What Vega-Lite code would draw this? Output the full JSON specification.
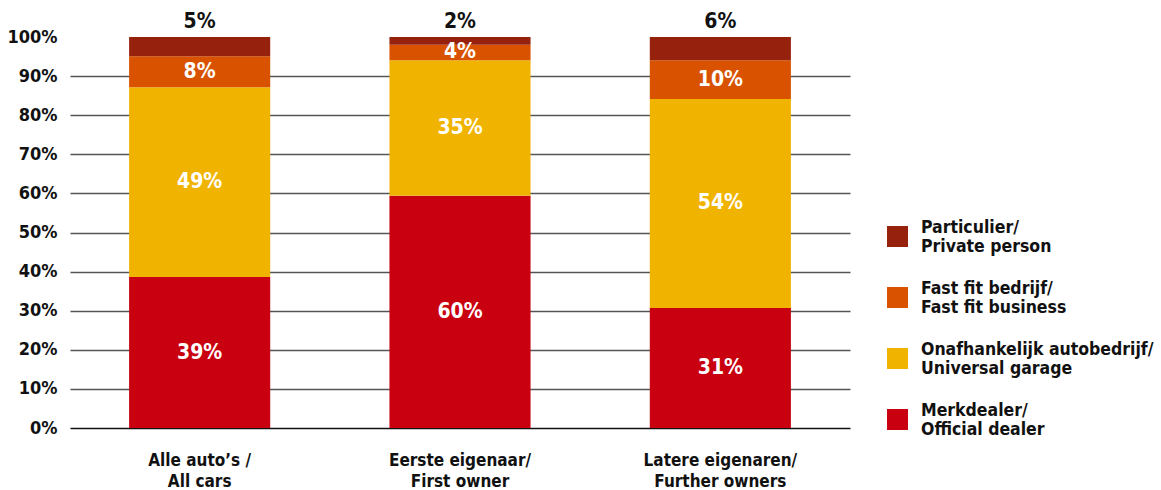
{
  "$schema": "https://vega.github.io/schema/vega-lite/v6.json",
  "autosize": "none",
  "width": 780,
  "height": 391,
  "padding": {"left": 70, "top": 37, "right": 311, "bottom": 62},
  "background": "white",
  "config": {
    "view": {"stroke": null},
    "font": "DejaVu Sans Condensed",
    "axis": {"labelFont": "DejaVu Sans Condensed", "labelFontWeight": "bold", "labelColor": "#111"},
    "legend": {"labelFont": "DejaVu Sans Condensed", "labelFontWeight": "bold"}
  },
  "data": {
    "values": [
      {"grp": "Alle auto’s /|All cars", "cat": "Merkdealer/|Official dealer", "k": 1, "v": 39, "lab": "39%"},
      {"grp": "Alle auto’s /|All cars", "cat": "Onafhankelijk autobedrijf/|Universal garage", "k": 2, "v": 49, "lab": "49%"},
      {"grp": "Alle auto’s /|All cars", "cat": "Fast fit bedrijf/|Fast fit business", "k": 3, "v": 8, "lab": "8%"},
      {"grp": "Alle auto’s /|All cars", "cat": "Particulier/|Private person", "k": 4, "v": 5, "lab": "5%"},
      {"grp": "Eerste eigenaar/|First owner", "cat": "Merkdealer/|Official dealer", "k": 1, "v": 60, "lab": "60%"},
      {"grp": "Eerste eigenaar/|First owner", "cat": "Onafhankelijk autobedrijf/|Universal garage", "k": 2, "v": 35, "lab": "35%"},
      {"grp": "Eerste eigenaar/|First owner", "cat": "Fast fit bedrijf/|Fast fit business", "k": 3, "v": 4, "lab": "4%"},
      {"grp": "Eerste eigenaar/|First owner", "cat": "Particulier/|Private person", "k": 4, "v": 2, "lab": "2%"},
      {"grp": "Latere eigenaren/|Further owners", "cat": "Merkdealer/|Official dealer", "k": 1, "v": 31, "lab": "31%"},
      {"grp": "Latere eigenaren/|Further owners", "cat": "Onafhankelijk autobedrijf/|Universal garage", "k": 2, "v": 54, "lab": "54%"},
      {"grp": "Latere eigenaren/|Further owners", "cat": "Fast fit bedrijf/|Fast fit business", "k": 3, "v": 10, "lab": "10%"},
      {"grp": "Latere eigenaren/|Further owners", "cat": "Particulier/|Private person", "k": 4, "v": 6, "lab": "6%"}
    ]
  },
  "encoding": {
    "x": {
      "field": "grp", "type": "nominal", "sort": null, "title": null,
      "scale": {"paddingInner": 0.458, "paddingOuter": 0.227},
      "axis": {
        "labelAngle": 0, "labelExpr": "split(datum.label, '|')", "labelFontSize": 17,
        "labelPadding": 24, "labelLineHeight": 21, "ticks": false,
        "domainColor": "#111", "domainWidth": 1.5, "grid": false
      }
    }
  },
  "layer": [
    {
      "mark": {"type": "bar"},
      "encoding": {
        "y": {
          "field": "v", "type": "quantitative", "stack": "normalize", "title": null,
          "scale": {"domain": [0, 1]},
          "axis": {
            "values": [0, 0.1, 0.2, 0.3, 0.4, 0.5, 0.6, 0.7, 0.8, 0.9, 1],
            "tickCount": 11,
            "format": ".0%", "labelFontSize": 18, "labelPadding": 13, "ticks": false, "domain": false,
            "labelOverlap": false, "labelBound": false,
            "grid": true, "gridColor": "#555", "gridWidth": 1.5,
            "gridOpacity": {"condition": {"test": "datum.value >= 1 || datum.value <= 0", "value": 0}, "value": 1}
          }
        },
        "order": {"field": "k", "type": "quantitative"},
        "color": {
          "field": "cat", "type": "nominal", "title": null,
          "scale": {
            "domain": ["Particulier/|Private person", "Fast fit bedrijf/|Fast fit business", "Onafhankelijk autobedrijf/|Universal garage", "Merkdealer/|Official dealer"],
            "range": ["#96220e", "#d95200", "#f0b400", "#c8000f"]
          },
          "legend": {
            "orient": "none", "legendX": 817, "legendY": 189,
            "labelExpr": "split(datum.label, '|')",
            "labelFontSize": 17.5, "labelLineHeight": 19, "labelColor": "#111", "labelLimit": 400,
            "labelBaseline": "bottom",
            "symbolType": "square", "symbolSize": 441, "symbolStrokeWidth": 0, "symbolOpacity": 1,
            "rowPadding": 23, "labelOffset": 13, "padding": 0
          }
        }
      }
    },
    {
      "mark": {"type": "text", "fontSize": 21, "fontWeight": "bold", "color": "white"},
      "encoding": {
        "y": {"field": "v", "type": "quantitative", "stack": "normalize", "bandPosition": 0.5},
        "order": {"field": "k", "type": "quantitative"},
        "detail": {"field": "cat"},
        "text": {"condition": {"test": "datum.k == 4", "value": ""}, "field": "lab"}
      }
    },
    {
      "transform": [{"filter": "datum.k == 4"}],
      "mark": {"type": "text", "fontSize": 21, "fontWeight": "bold", "color": "#111", "dy": -15},
      "encoding": {
        "y": {"datum": 1, "type": "quantitative"},
        "text": {"field": "lab"}
      }
    }
  ]
}
